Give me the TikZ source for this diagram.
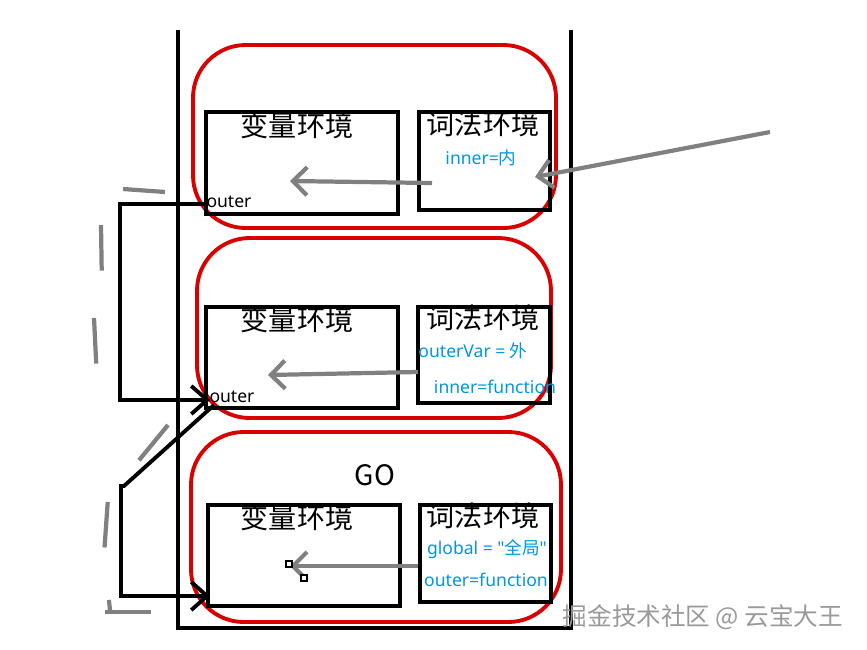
\documentclass[tikz,border=0pt]{standalone}
\usepackage{fontspec}
\setmainfont{Noto Sans CJK SC}
\newfontfamily\latn{Noto Sans}
\usetikzlibrary{arrows.meta}

\begin{document}
\begin{tikzpicture}[x=0.02cm,y=-0.02cm,
    frame/.style={draw=red!85!black,line width=2.2pt,rounded corners=30pt},
    env/.style={draw,line width=2.4pt,inner sep=0pt},
    hd/.style={font=\fontsize{16}{16}\selectfont},
    val/.style={text={rgb,255:red,0;green,150;blue,225},font=\latn\fontsize{10}{10}\selectfont,inner sep=1pt},
    link/.style={line width=2.2pt,-{Straight Barb[length=9pt,width=16pt]}},
    ref/.style={draw=gray,line width=2.4pt,-{Straight Barb[length=8pt,width=16pt]}},
    loop/.style={draw=gray,line width=2.4pt,dash pattern=on 26pt off 30pt}]
  \useasboundingbox (0,0) rectangle (867,650);
  % outer stack
  \draw[line width=2.4pt] (178,30) -- (178,628) -- (571,628) -- (571,30);
  % execution contexts
  \draw[frame] (193,45) rectangle (556,228);
  \draw[frame] (197,238) rectangle (551,418);
  \draw[frame] (191,432) rectangle (561,622);
  % environments
  \node[env,minimum width=192*0.02cm,minimum height=102*0.02cm,anchor=north west] (v1) at (204,110) {};
  \node[env,minimum width=131*0.02cm,minimum height=98*0.02cm,anchor=north west] (l1) at (417,110) {};
  \node[env,minimum width=192*0.02cm,minimum height=101*0.02cm,anchor=north west] (v2) at (204,305) {};
  \node[env,minimum width=132*0.02cm,minimum height=96*0.02cm,anchor=north west] (l2) at (416,305) {};
  \node[env,minimum width=192*0.02cm,minimum height=101*0.02cm,anchor=north west] (v3) at (206,503) {};
  \node[env,minimum width=131*0.02cm,minimum height=97*0.02cm,anchor=north west] (l3) at (418,503) {};
  % titles
  \node[hd] (tv1) at (297,126) {变量环境};
  \node[hd] (tl1) at (483,124) {词法环境};
  \node[hd] (tv2) at (297,320) {变量环境};
  \node[hd] (tl2) at (483,318) {词法环境};
  \node[hd] (tv3) at (297,518) {变量环境};
  \node[hd] (tl3) at (483,516) {词法环境};
  \node[hd] (go) at (375,475) {GO};
  % values
  \node[val] (in1) at (481,158) {inner=\rmfamily 内};
  \node[font=\latn\fontsize{10}{10}\selectfont] (o1) at (229,202) {outer};
  \node[val] (ov) at (473,351) {outerVar = \rmfamily 外};
  \node[val] (in2) at (495,387) {inner=function};
  \node[font=\latn\fontsize{10}{10}\selectfont] (o2) at (232,397) {outer};
  \node[val] (gl) at (487,549) {global = "{\rmfamily 全局}"};
  \node[val] (of) at (486,580) {outer=function};
  % lexical -> variable references
  \coordinate (a1) at (432,183); \coordinate (b1) at (290,181);
  \coordinate (a0) at (770,132); \coordinate (b0) at (535,177);
  \coordinate (a2) at (418,372); \coordinate (b2) at (268,375);
  \coordinate (a3) at (418,566); \coordinate (b3) at (290,566);
  \draw[ref] (a1) -- (b1);
  \draw[ref] (a0) -- (b0);
  \draw[ref] (a2) -- (b2);
  \draw[ref] (a3) -- (b3);
  \draw[line width=0.8pt,fill=white] (286,561) rectangle (292,567) (301,575) rectangle (307,581);
  % outer chain
  \coordinate (c1) at (207,204); \coordinate (d1) at (210,400);
  \coordinate (c2) at (214,405); \coordinate (d2) at (210,596);
  \draw[link] (c1) -- (120,204) -- (120,400) -- (d1);
  \draw[link] (c2) -- (124,486) -- (121,486) -- (121,596) -- (d2);
  % hand-drawn loops
  \draw[loop] (123,189) -- (165,192);
  \draw[loop] (101,225) -- (102,290) (94,318) -- (98,400);
  \draw[loop] (168,425) -- (108,498) -- (104,555) -- (110,610);
  \draw[loop] (105,612) -- (160,612);
  % watermark
  \node[text=gray!80,font=\fontsize{14}{14}\selectfont] (wm) at (703,617) {掘金技术社区 @ 云宝大王};
\end{tikzpicture}
\end{document}
